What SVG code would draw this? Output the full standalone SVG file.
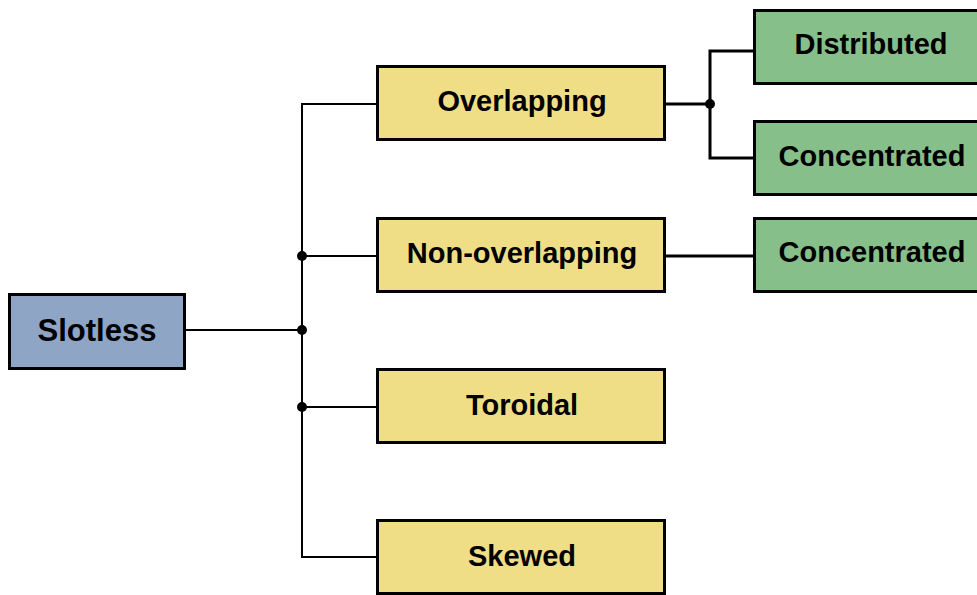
<svg xmlns="http://www.w3.org/2000/svg" width="977" height="595" viewBox="0 0 977 595">
  <style>
    .box { stroke: #000; stroke-width: 3; }
    .root { fill: #8EA5C6; }
    .mid { fill: #F0DE87; }
    .leaf { fill: #86BF8A; }
    .lbl { font-family: "Liberation Sans", Arial, sans-serif; font-weight: bold; font-size: 29px; fill: #000; text-anchor: middle; }
    .wire { fill: none; stroke: #000; stroke-width: 2; }
    .wire2 { fill: none; stroke: #000; stroke-width: 3; }
    .dot { fill: #000; }
  </style>
  <rect width="977" height="595" fill="#fff"/>

  <!-- connectors -->
  <g id="connectors">
    <path class="wire" d="M185 330 H302"/>
    <path class="wire" d="M377 104 H302 V557 H377"/>
    <path class="wire" d="M302 256 H377"/>
    <path class="wire" d="M302 407 H377"/>
    <path class="wire2" d="M665 104 H710"/>
    <path class="wire2" d="M754 51 H710 V158 H754"/>
    <path class="wire2" d="M665 256 H754"/>
    <circle class="dot" cx="302" cy="256" r="5"/>
    <circle class="dot" cx="302" cy="330" r="5"/>
    <circle class="dot" cx="302" cy="407" r="5"/>
    <circle class="dot" cx="710" cy="104" r="5"/>
  </g>

  <g id="slotless">
    <rect class="box root" x="9.5" y="294.5" width="175" height="74"/>
    <text class="lbl" x="97" y="341" style="font-size:31px">Slotless</text>
  </g>
  <g id="overlapping">
    <rect class="box mid" x="377.5" y="66.5" width="287" height="73"/>
    <text class="lbl" x="522" y="111">Overlapping</text>
  </g>
  <g id="non-overlapping">
    <rect class="box mid" x="377.5" y="218.5" width="287" height="73"/>
    <text class="lbl" x="522" y="263">Non-overlapping</text>
  </g>
  <g id="toroidal">
    <rect class="box mid" x="377.5" y="369.5" width="287" height="73"/>
    <text class="lbl" x="522" y="415">Toroidal</text>
  </g>
  <g id="skewed">
    <rect class="box mid" x="377.5" y="520.5" width="287" height="73"/>
    <text class="lbl" x="522" y="566">Skewed</text>
  </g>
  <g id="distributed">
    <rect class="box leaf" x="754.5" y="10.5" width="230" height="73"/>
    <text class="lbl" x="871" y="54">Distributed</text>
  </g>
  <g id="concentrated-1">
    <rect class="box leaf" x="754.5" y="121.5" width="230" height="73"/>
    <text class="lbl" x="872" y="166">Concentrated</text>
  </g>
  <g id="concentrated-2">
    <rect class="box leaf" x="754.5" y="218.5" width="230" height="73"/>
    <text class="lbl" x="872" y="262">Concentrated</text>
  </g>
</svg>
